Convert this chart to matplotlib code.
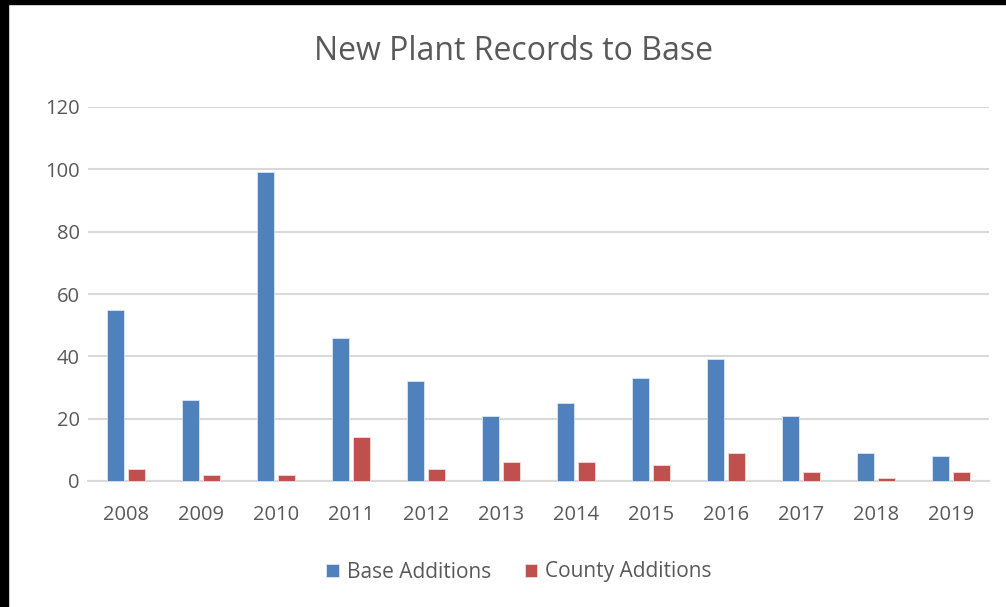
import matplotlib
matplotlib.use("Agg")
import matplotlib.pyplot as plt
import numpy as np

years = ["2008", "2009", "2010", "2011", "2012", "2013",
         "2014", "2015", "2016", "2017", "2018", "2019"]
base_additions = [55, 26, 99, 46, 32, 21, 25, 33, 39, 21, 9, 8]
county_additions = [4, 2, 2, 14, 4, 6, 6, 5, 9, 3, 1, 3]
y_ticks = [0, 20, 40, 60, 80, 100, 120]

BLUE = "#4F81BD"
RED = "#C0504D"
TEXT = "#595959"
GRID = "#D9D9D9"

plt.rcParams["font.family"] = ["Open Sans", "DejaVu Sans"]

fig = plt.figure(figsize=(10.06, 6.07), dpi=100)
# black frame strips on the left and top, as in the screenshot
fig.patches.append(plt.Rectangle((0, 0), 8 / 1006, 1, transform=fig.transFigure,
                                 color="black", zorder=0))
fig.patches.append(plt.Rectangle((0, 1 - 4 / 607), 1, 4 / 607, transform=fig.transFigure,
                                 color="black", zorder=0))

ax = fig.add_axes([88 / 1006, 1 - 481 / 607, (989 - 88) / 1006, (481 - 107) / 607])

x = np.arange(len(years))
w = 0.226
ax.bar(x - 0.14, base_additions, w, color=BLUE, edgecolor="#DCE6F2", linewidth=0.6,
       label="Base Additions", zorder=3)
ax.bar(x + 0.14, county_additions, w, color=RED, edgecolor="#F2DCDB", linewidth=0.6,
       label="County Additions", zorder=3)

ax.set_xlim(-0.5, len(years) - 0.5)
ax.set_ylim(0, 120)
ax.set_yticks(y_ticks)
ax.set_xticks(x, years)
ax.yaxis.grid(True, color=GRID, linewidth=1.5, zorder=0)
ax.set_axisbelow(True)
for side in ["top", "right", "left"]:
    ax.spines[side].set_visible(False)
ax.spines["bottom"].set_color(GRID)
ax.spines["bottom"].set_linewidth(1.5)
ax.tick_params(axis="both", length=0, labelsize=14.5, colors=TEXT)
ax.tick_params(axis="y", pad=6)
ax.tick_params(axis="x", pad=17)

fig.text(513 / 1006, 1 - 52 / 607, "New Plant Records to Base", ha="center", va="center",
         fontsize=23, color=TEXT)

ax.legend(loc="center", bbox_to_anchor=(519 / 1006, 1 - 572 / 607),
          bbox_transform=fig.transFigure, ncol=2, frameon=False, fontsize=15,
          labelcolor=TEXT, handlelength=0.6, handleheight=0.6, handletextpad=0.4,
          columnspacing=1.6)

fig.savefig("out.png", dpi=100)
